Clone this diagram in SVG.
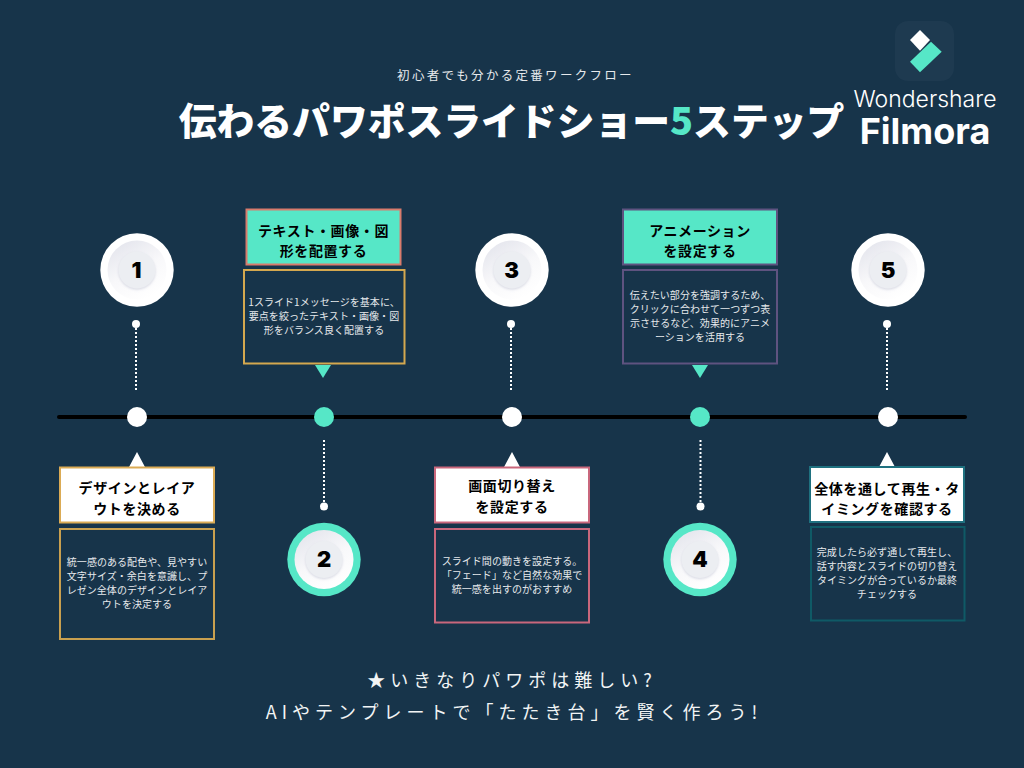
<svg xmlns="http://www.w3.org/2000/svg" width="1024" height="768" viewBox="0 0 1024 768">
<style>
text{font-family:"Noto Sans CJK JP","Noto Sans",sans-serif;text-anchor:middle}
.h{font-size:14px;font-weight:700;letter-spacing:.6px;fill:#000}
.b{font-size:10px;letter-spacing:.05px;fill:#e6e9ec}
.n{font-family:Inter,"Liberation Sans",sans-serif;font-size:22px;font-weight:900;fill:#000}
.d{fill:none;stroke:#fff;stroke-width:2;stroke-dasharray:2 2}
.bot{font-size:18px;letter-spacing:5px;fill:#f2f4f5}
</style>
<defs>
<linearGradient id="ring" x1="0.25" y1="0.05" x2="0.75" y2="0.95"><stop offset="0" stop-color="#e6e7ee"/><stop offset="0.5" stop-color="#f8f8fa"/><stop offset="1" stop-color="#fff"/></linearGradient>
<filter id="sh" x="-30%" y="-30%" width="160%" height="160%"><feDropShadow dx="0" dy="1.2" stdDeviation="1.200" flood-color="#b5b8cc" flood-opacity=".5"/></filter>
<g id="dial"><circle r="29.5" fill="url(#ring)"/><circle r="18.500" fill="#eceef2" filter="url(#sh)"/></g>
</defs>
<rect width="1024" height="768" fill="#17344a"/>
<g id="header">
<text x="515.500" y="79.500" font-size="12.500" letter-spacing="2.300" fill="#e6e9ec">初心者でも分かる定番ワークフロー</text>
<text x="511.500" y="135" font-size="37.800" font-weight="900" fill="#fff">伝わるパワポスライドショー<tspan fill="#56e7c7">5</tspan>ステップ</text>
</g>
<g id="logo">
<rect x="895" y="21" width="59" height="60" rx="13" fill="#1e3a50"/>
<polygon points="920,30 930,40 920,50.7 910,40" fill="#fff"/>
<polygon points="931,41.7 941.7,51.7 920,72.3 910,61.7" fill="#56e7c7"/>
<text x="925" y="107" font-size="23" font-weight="300" fill="#fff" style="font-family:Inter,'Liberation Sans',sans-serif">Wondershare</text>
<text x="925" y="144" font-size="36" font-weight="700" fill="#fff" style="font-family:Inter,'Liberation Sans',sans-serif">Filmora</text>
</g>
<g id="connectors">
<line x1="59" y1="417" x2="965" y2="417" stroke="#000" stroke-width="4" stroke-linecap="round"/>
<path class="d" d="M136 328V390M511 328V390M887 328V390M324 440V503M700.500 440V503"/>
<circle cx="136" cy="324" r="4" fill="#fff"/><circle cx="511" cy="324" r="4" fill="#fff"/><circle cx="887" cy="324" r="4" fill="#fff"/><circle cx="324" cy="506.500" r="4" fill="#fff"/><circle cx="700.500" cy="506.500" r="4" fill="#fff"/>
</g>
<g id="step1">
<circle cx="137" cy="417" r="10" fill="#fff"/>
<circle cx="137" cy="270" r="36.700" fill="#fff"/><use href="#dial" x="137" y="270"/>
<text class="n" x="136.500" y="278">1</text>
<polygon points="137,452 145,467 129,467" fill="#fff"/>
<rect x="60" y="467.500" width="154" height="55" fill="#fff" stroke="#dbab55" stroke-width="2"/>
<text class="h" x="137" y="493">デザインとレイア</text><text class="h" x="137" y="514">ウトを決める</text>
<rect x="60" y="529" width="154" height="110" fill="none" stroke="#c9a04f" stroke-width="2"/>
<text class="b" x="137" y="566">統一感のある配色や、見やすい</text><text class="b" x="137" y="580">文字サイズ・余白を意識し、プ</text><text class="b" x="137" y="594">レゼン全体のデザインとレイア</text><text class="b" x="137" y="608">ウトを決定する</text>
</g>
<g id="step2">
<circle cx="324" cy="417" r="10" fill="#56e7c7"/>
<circle cx="324" cy="559.500" r="36.700" fill="#56e7c7"/><use href="#dial" x="324" y="559.500"/>
<text class="n" x="324" y="567">2</text>
<rect x="246.500" y="209.500" width="154" height="55" fill="#56e7c7" stroke="#d97b6c" stroke-width="2"/>
<text class="h" x="323.500" y="236">テキスト・画像・図</text><text class="h" x="323.500" y="256">形を配置する</text>
<rect x="244" y="270" width="160.500" height="93.500" fill="none" stroke="#d4a84f" stroke-width="2"/>
<text class="b" x="324" y="306">1スライド1メッセージを基本に、</text><text class="b" x="324" y="320">要点を絞ったテキスト・画像・図</text><text class="b" x="324" y="334">形をバランス良く配置する</text>
<polygon points="315,365 331,365 323,378" fill="#56e7c7"/>
</g>
<g id="step3">
<circle cx="512" cy="417" r="10" fill="#fff"/>
<circle cx="512" cy="270" r="36.700" fill="#fff"/><use href="#dial" x="512" y="270"/>
<text class="n" x="511.500" y="278">3</text>
<polygon points="512,452 520,467 504,467" fill="#fff"/>
<rect x="435" y="467.500" width="154" height="55" fill="#fff" stroke="#c9677c" stroke-width="2"/>
<text class="h" x="512" y="491">画面切り替え</text><text class="h" x="512" y="512">を設定する</text>
<rect x="435" y="529" width="154" height="93.500" fill="none" stroke="#c9677c" stroke-width="2"/>
<text class="b" x="512" y="565">スライド間の動きを設定する。</text><text class="b" x="512" y="579">「フェード」など自然な効果で</text><text class="b" x="512" y="593">統一感を出すのがおすすめ</text>
</g>
<g id="step4">
<circle cx="700" cy="417" r="10" fill="#56e7c7"/>
<circle cx="700" cy="559.500" r="36.700" fill="#56e7c7"/><use href="#dial" x="700" y="559.500"/>
<text class="n" x="700" y="567">4</text>
<rect x="623" y="209.500" width="154" height="55" fill="#56e7c7" stroke="#5f5380" stroke-width="2"/>
<text class="h" x="700" y="236">アニメーション</text><text class="h" x="700" y="256">を設定する</text>
<rect x="623" y="270" width="154" height="93.500" fill="none" stroke="#5f5380" stroke-width="2"/>
<text class="b" x="700" y="299">伝えたい部分を強調するため、</text><text class="b" x="700" y="313">クリックに合わせて一つずつ表</text><text class="b" x="700" y="327">示させるなど、効果的にアニメ</text><text class="b" x="700" y="341">ーションを活用する</text>
<polygon points="692,365 708,365 700,378" fill="#56e7c7"/>
</g>
<g id="step5">
<circle cx="888" cy="417" r="10" fill="#fff"/>
<circle cx="888" cy="270" r="36.700" fill="#fff"/><use href="#dial" x="888" y="270"/>
<text class="n" x="888" y="278">5</text>
<polygon points="887,452 895,467 879,467" fill="#fff"/>
<rect x="810" y="467" width="154" height="55" fill="#fff" stroke="#1f7180" stroke-width="2"/>
<text class="h" x="887" y="494">全体を通して再生・タ</text><text class="h" x="887" y="514">イミングを確認する</text>
<rect x="811" y="527" width="153.500" height="93.500" fill="none" stroke="#0f5a66" stroke-width="2"/>
<text class="b" x="887" y="556">完成したら必ず通して再生し、</text><text class="b" x="887" y="570">話す内容とスライドの切り替え</text><text class="b" x="887" y="584">タイミングが合っているか最終</text><text class="b" x="887" y="598">チェックする</text>
</g>
<g id="footer">
<text class="bot" x="512" y="687">★いきなりパワポは難しい?</text>
<text class="bot" x="514" y="719">AIやテンプレートで「たたき台」を賢く作ろう!</text>
</g>
</svg>
